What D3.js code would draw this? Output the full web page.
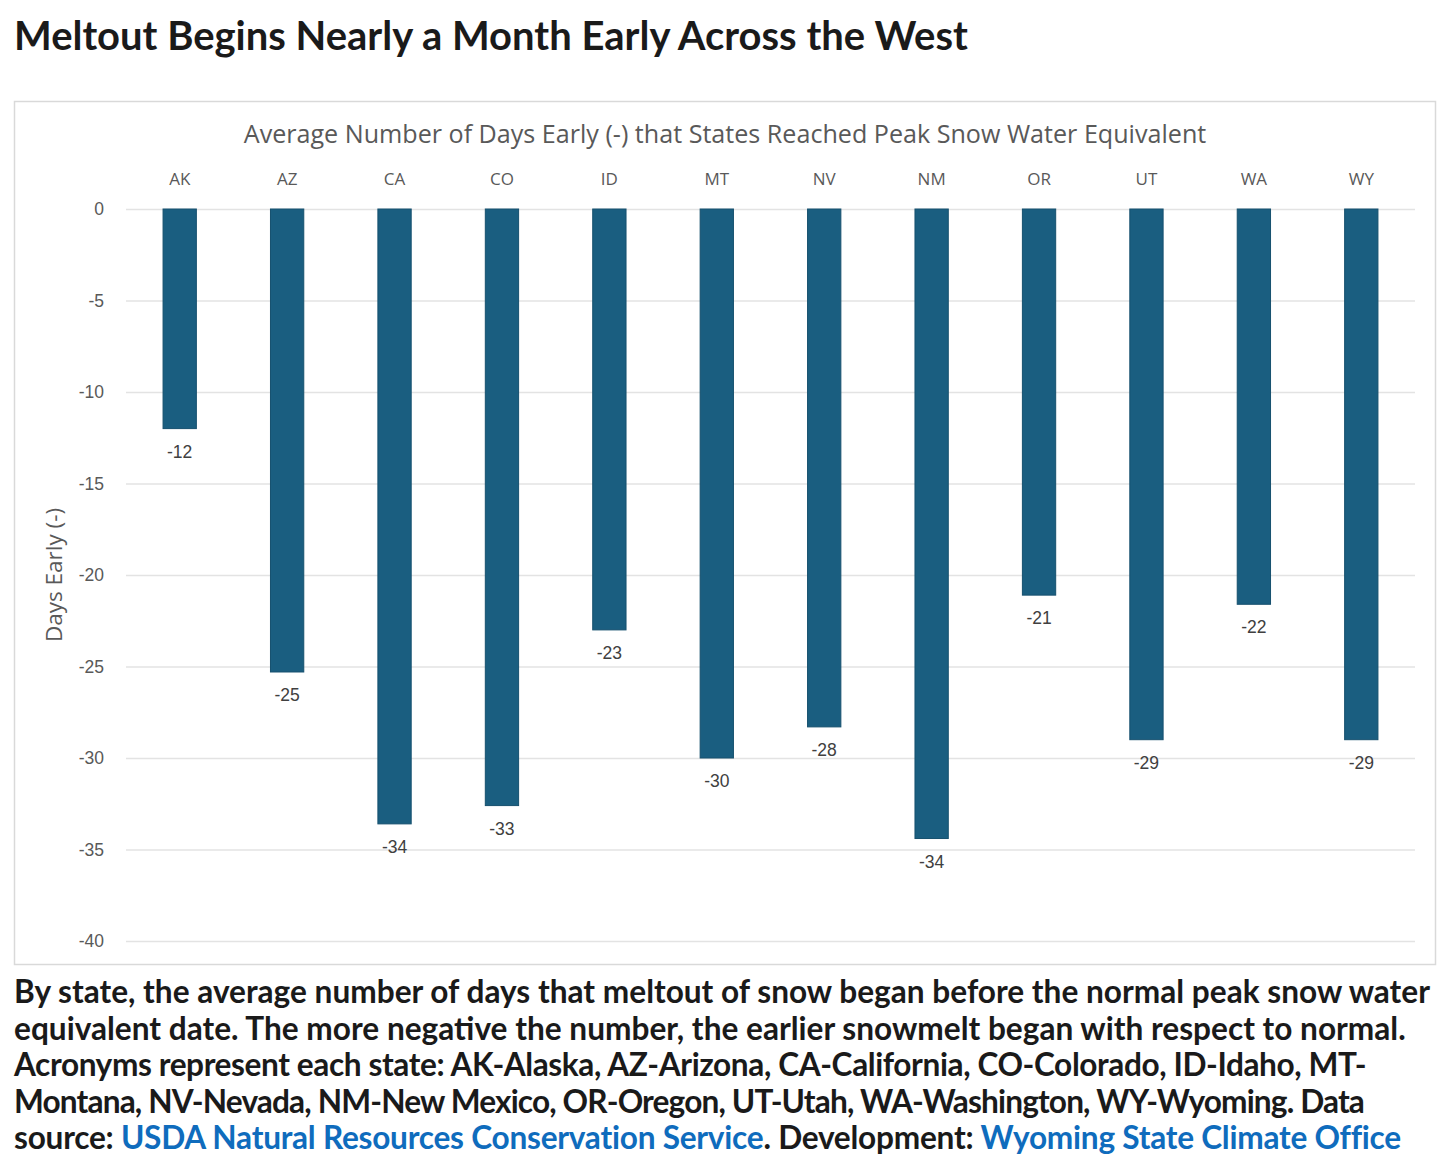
<!DOCTYPE html>
<html>
<head>
<meta charset="utf-8">
<script src="https://cdn.jsdelivr.net/npm/d3@7.9.0/dist/d3.min.js"></script>
<style>
  html, body { margin: 0; padding: 0; background: #fff; }
  svg { display: block; }
</style>
</head>
<body>
<div id="chart"></div>
<script>
// ---------- DATA ----------
const states = ['AK', 'AZ', 'CA', 'CO', 'ID', 'MT', 'NV', 'NM', 'OR', 'UT', 'WA', 'WY'];
const daysEarly = [-12.0, -25.3, -33.6, -32.6, -23.0, -30.0, -28.3, -34.4, -21.1, -29.0, -21.6, -29.0];
const yTicks = [0, -5, -10, -15, -20, -25, -30, -35, -40];

const pageTitle = 'Meltout Begins Nearly a Month Early Across the West';
const chartTitle = 'Average Number of Days Early (-) that States Reached Peak Snow Water Equivalent';
const yTitle = 'Days Early (-)';
// caption lines; each line is a list of [text, isLink]
const captionLines = [
  [['By state, the average number of days that meltout of snow began before the normal peak snow water', false]],
  [['equivalent date. The more negative the number, the earlier snowmelt began with respect to normal.', false]],
  [['Acronyms represent each state: AK-Alaska, AZ-Arizona, CA-California, CO-Colorado, ID-Idaho, MT-', false]],
  [['Montana, NV-Nevada, NM-New Mexico, OR-Oregon, UT-Utah, WA-Washington, WY-Wyoming. Data', false]],
  [['source: ', false], ['USDA Natural Resources Conservation Service', true], ['. Development: ', false], ['Wyoming State Climate Office', true]],
];
// how wide each caption line runs in the original
const captionWidths = [1416, 1391, 1352, 1350, 1386];

// ---------- LAYOUT ----------
const width = 1456;
const height = 1167;
const box = { x: 14.5, y: 101.5, w: 1421, h: 863 };
const plot = { left: 126, right: 1415, top: 209, bottom: 941 };

const svg = d3.select('#chart')
  .append('svg')
  .attr('width', width)
  .attr('height', height);

// fit a text element to a target width by changing font size
function fitWidth(sel, target) {
  const node = sel.node();
  const fs = parseFloat(sel.attr('font-size'));
  const w = node.getComputedTextLength();
  sel.attr('font-size', (fs * target / w).toFixed(2));
}

// ---------- PAGE TITLE ----------
const title = svg.append('text')
  .attr('x', 14)
  .attr('y', 50)
  .attr('font-family', 'Lato, "Noto Sans", sans-serif')
  .attr('font-weight', 700)
  .attr('font-size', 38)
  .attr('fill', '#1a1a1a')
  .text(pageTitle);
fitWidth(title, 954);

// ---------- CHART BOX ----------
svg.append('rect')
  .attr('x', box.x)
  .attr('y', box.y)
  .attr('width', box.w)
  .attr('height', box.h)
  .attr('fill', '#fff')
  .attr('stroke', '#d9d9d9')
  .attr('stroke-width', 1.5);

const ct = svg.append('text')
  .attr('x', 725)
  .attr('y', 143)
  .attr('text-anchor', 'middle')
  .attr('font-family', '"Open Sans", sans-serif')
  .attr('font-size', 24)
  .attr('fill', '#595959')
  .text(chartTitle);
fitWidth(ct, 963);

// ---------- SCALES ----------
const x = d3.scaleBand()
  .domain(states)
  .range([plot.left, plot.right])
  .paddingInner(0.69)
  .paddingOuter(0.345);

const y = d3.scaleLinear()
  .domain([-40, 0])
  .range([plot.bottom, plot.top]);

// --- Gridlines
const grid = svg.append('g')
  .attr('class', 'gridlines')
  .attr('transform', `translate(${plot.left},0)`)
  .call(d3.axisLeft(y).tickValues(yTicks).tickFormat('').tickSize(-(plot.right - plot.left)));
grid.select('.domain').remove();
grid.selectAll('line').attr('stroke', '#e3e3e3').attr('stroke-width', 1.5);

// --- Y axis labels (plain hyphen for the minus, as in the original)
const yAxis = svg.append('g')
  .attr('class', 'y-axis')
  .attr('transform', `translate(${plot.left},0)`)
  .call(d3.axisLeft(y).tickValues(yTicks).tickSize(0).tickPadding(22).tickFormat((d) => String(d)));
yAxis.select('.domain').remove();
yAxis.selectAll('text')
  .attr('font-family', '"Liberation Sans", Arial, sans-serif')
  .attr('font-size', 17.5)
  .attr('fill', '#595959');

// --- Category labels (top)
const xAxis = svg.append('g')
  .attr('class', 'x-axis')
  .attr('transform', `translate(0,${plot.top})`)
  .call(d3.axisTop(x).tickSize(0).tickPadding(24));
xAxis.select('.domain').remove();
xAxis.selectAll('text')
  .attr('font-family', '"Open Sans", sans-serif')
  .attr('font-size', 17)
  .attr('fill', '#595959');

// --- Y title
svg.append('text')
  .attr('transform', `translate(62,${(plot.top + plot.bottom) / 2}) rotate(-90)`)
  .attr('text-anchor', 'middle')
  .attr('font-family', '"Open Sans", sans-serif')
  .attr('font-size', 22.5)
  .attr('fill', '#595959')
  .text(yTitle);

// ---------- BARS ----------
const rows = states.map((s, i) => ({ state: s, value: daysEarly[i] }));

svg.append('g')
  .attr('class', 'bars')
  .selectAll('rect')
  .data(rows)
  .join('rect')
  .attr('x', (d) => x(d.state))
  .attr('y', y(0))
  .attr('width', x.bandwidth())
  .attr('height', (d) => y(d.value) - y(0))
  .attr('fill', '#1a5e80')
  .attr('stroke', '#16506e')
  .attr('stroke-width', 1);

svg.append('g')
  .attr('class', 'labels')
  .selectAll('text')
  .data(rows)
  .join('text')
  .attr('x', (d) => x(d.state) + x.bandwidth() / 2)
  .attr('y', (d) => y(d.value) + 23)
  .attr('dy', '0.35em')
  .attr('text-anchor', 'middle')
  .attr('font-family', '"Liberation Sans", Arial, sans-serif')
  .attr('font-size', 17.5)
  .attr('fill', '#404040')
  .text((d) => String(-Math.round(-d.value)));

// ---------- CAPTION ----------
const cap = svg.append('g')
  .attr('class', 'caption')
  .attr('font-family', 'Lato, "Noto Sans", sans-serif')
  .attr('font-weight', 700)
  .attr('font-size', 27)
  .attr('fill', '#1a1a1a');

const capText = cap.selectAll('text')
  .data(captionLines)
  .join('text')
  .attr('x', 14)
  .attr('y', (d, i) => 1003 + i * 36.5);

capText.selectAll('tspan')
  .data((d) => d)
  .join('tspan')
  .attr('fill', (d) => (d[1] ? '#0f6cbd' : '#1a1a1a'))
  .text((d) => d[0]);

// one font size for all caption lines, fitted to the first line
const firstW = capText.nodes()[0].getComputedTextLength();
cap.attr('font-size', (27 * captionWidths[0] / firstW).toFixed(2));

// then a small letter-spacing tweak so each line ends where it does in the original
capText.each(function (d, i) {
  const w = this.getComputedTextLength();
  const chars = d.map((p) => p[0]).join('').length;
  const ls = (captionWidths[i] - w) / chars;
  if (Math.abs(ls) > 0.05) d3.select(this).attr('letter-spacing', ls.toFixed(3));
});
</script>
</body>
</html>
